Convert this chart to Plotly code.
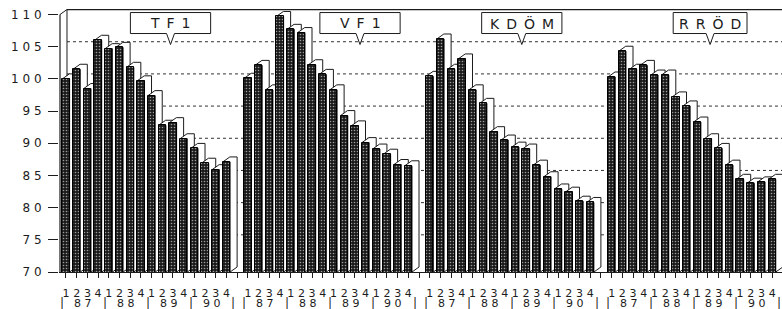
import plotly.graph_objects as go

# ---------------- data ----------------
panels = ["TF1", "VF1", "KDÖM", "RRÖD"]
quarters = ["1", "2", "3", "4"]
years = ["87", "88", "89", "90"]
y_ticks = [70, 75, 80, 85, 90, 95, 100, 105, 110]

tf1 = [100.0, 101.5, 98.5, 106.0, 104.7, 104.9, 101.8, 99.7, 97.4, 92.8, 93.2, 90.7, 89.2, 86.9, 85.9, 87.1]
vf1 = [100.1, 102.1, 98.3, 109.7, 107.7, 107.2, 102.2, 100.7, 98.3, 94.3, 92.7, 90.1, 89.1, 88.3, 86.7, 86.5]
kdom = [100.4, 106.2, 101.5, 103.1, 98.3, 96.2, 91.8, 90.5, 89.4, 89.1, 86.6, 84.8, 82.9, 82.4, 81.0, 80.8]
rrod = [100.3, 104.3, 101.5, 102.1, 100.6, 100.6, 97.2, 95.8, 93.3, 90.7, 89.2, 86.6, 84.4, 83.8, 84.0, 84.4]
series = [tf1, vf1, kdom, rrod]

# ---------------- geometry (styling) ----------------
SLOT = 17            # slots per panel (16 bars + 1 gap)
W = 0.68             # bar width in slot units
DX = 0.654           # 3D depth offset, x units
DY = 0.777           # 3D depth offset, y units
YMIN = 70
XR = [-0.653, 66.92]
YR = [70, 110.86]
X0 = -0.56           # front axis position
INK = "#1c1c1c"
FONT = "DejaVu Sans"
YEAR_Y = -0.118

pos, vals = [], []
for p, s in enumerate(series):
    for i, v in enumerate(s):
        pos.append(p * SLOT + i)
        vals.append(v)

fig = go.Figure()

# white side/top faces (drawn back to front, left to right)
for x, v in zip(pos, vals):
    xl, xr = x - W / 2, x + W / 2
    fig.add_trace(go.Scatter(
        x=[xl, xl + DX, xr + DX, xr + DX, xr, xr, xl],
        y=[v, v + DY, v + DY, YMIN + DY, YMIN, v, v],
        mode="lines", fill="toself", fillcolor="white",
        line=dict(color=INK, width=1), hoverinfo="skip", showlegend=False,
        xaxis="x", yaxis="y"))

# dark front faces as real bars on an overlaid axis pair
fig.add_trace(go.Bar(
    x=pos, y=vals, width=W, xaxis="x2", yaxis="y2",
    marker=dict(color="#1a1a1a",
                line=dict(color="black", width=1),
                pattern=dict(shape=".", fgcolor="#9c9c9c", bgcolor="#1a1a1a",
                             size=3, solidity=0.22, fillmode="replace")),
    showlegend=False))

shapes = []
# back-wall gridlines
for t in y_ticks[1:-1]:
    shapes.append(dict(type="line", xref="x", yref="y", layer="below",
                       x0=X0 + DX, x1=XR[1], y0=t + DY, y1=t + DY,
                       line=dict(color="#333", width=1, dash="dot")))
# top line, back-wall edge, front axis
shapes.append(dict(type="line", xref="x", yref="y", layer="below",
                   x0=X0 + DX, x1=XR[1], y0=y_ticks[-1] + DY, y1=y_ticks[-1] + DY,
                   line=dict(color=INK, width=1.2)))
shapes.append(dict(type="line", xref="x", yref="y", layer="below",
                   x0=X0 + DX, x1=X0 + DX, y0=YMIN + DY, y1=y_ticks[-1] + DY,
                   line=dict(color=INK, width=1)))
shapes.append(dict(type="line", xref="x", yref="y", layer="above",
                   x0=X0, x1=X0 + DX, y0=y_ticks[-1], y1=y_ticks[-1] + DY,
                   line=dict(color=INK, width=1)))
shapes.append(dict(type="line", xref="x", yref="y", layer="above",
                   x0=X0, x1=X0, y0=YMIN, y1=y_ticks[-1],
                   line=dict(color=INK, width=1.2)))

# callout boxes with panel names
box_off = [9.77, 10.48, 8.6, 9.2]
box_w = [7.5, 7.5, 7.5, 6.9]
annotations = []
for p, name in enumerate(panels):
    c = p * SLOT + box_off[p]
    xl, xr = c - box_w[p] / 2, c + box_w[p] / 2
    yt, yb, ytip, h = 110.31, 107.05, 105.34, 0.37
    path = (f"M {xl},{yt} L {xr},{yt} L {xr},{yb} L {c + h},{yb} "
            f"L {c},{ytip} L {c - h},{yb} L {xl},{yb} Z")
    shapes.append(dict(type="path", xref="x", yref="y", layer="above", path=path,
                       fillcolor="white", line=dict(color=INK, width=1)))
    annotations.append(dict(x=c, y=(yt + yb) / 2, xref="x", yref="y",
                            text="\u2002".join(name), showarrow=False,
                            font=dict(family=FONT, size=14, color=INK)))
    # year labels and separators
    for k, yr in enumerate(years):
        annotations.append(dict(x=p * SLOT + 4 * k + 1.6, y=YEAR_Y, xref="x", yref="paper",
                                text=" ".join(yr), showarrow=False, yanchor="middle",
                                borderpad=0,
                                font=dict(family=FONT, size=11, color=INK)))
    for k in range(5):
        annotations.append(dict(x=p * SLOT + 4 * k - 0.35, y=YEAR_Y, xref="x", yref="paper",
                                text="|", showarrow=False, yanchor="middle",
                                borderpad=0,
                                font=dict(family=FONT, size=12, color=INK)))

tickvals = list(range(0, 4 * SLOT - 1))
ticktext = [quarters[(t % SLOT) % 4] if (t % SLOT) < 16 else "" for t in tickvals]

fig.update_layout(
    width=782, height=309,
    margin=dict(l=59, r=0, t=9, b=37),
    paper_bgcolor="white", plot_bgcolor="white",
    shapes=shapes, annotations=annotations,
    bargap=0,
    xaxis=dict(range=XR, showgrid=False, zeroline=False, showline=True,
               linecolor=INK, linewidth=1.2, ticks="outside", ticklen=5,
               tickcolor=INK, tickvals=tickvals, ticktext=ticktext,
               tickangle=0, ticklabelstandoff=6,
               tickfont=dict(family=FONT, size=11, color=INK)),
    yaxis=dict(range=YR, showgrid=False, zeroline=False, showline=False,
               ticks="outside", ticklen=10, tickcolor=INK, tickwidth=1.2,
               tickvals=y_ticks, ticktext=[" ".join(str(t)) for t in y_ticks],
               ticklabelstandoff=4,
               tickfont=dict(family=FONT, size=12, color=INK)),
    xaxis2=dict(overlaying="x", matches="x", visible=False, range=XR),
    yaxis2=dict(overlaying="y", matches="y", visible=False, range=YR),
)

fig.write_html("out.html", config={"displayModeBar": False},
               post_script="document.body.style.margin='0px';")
